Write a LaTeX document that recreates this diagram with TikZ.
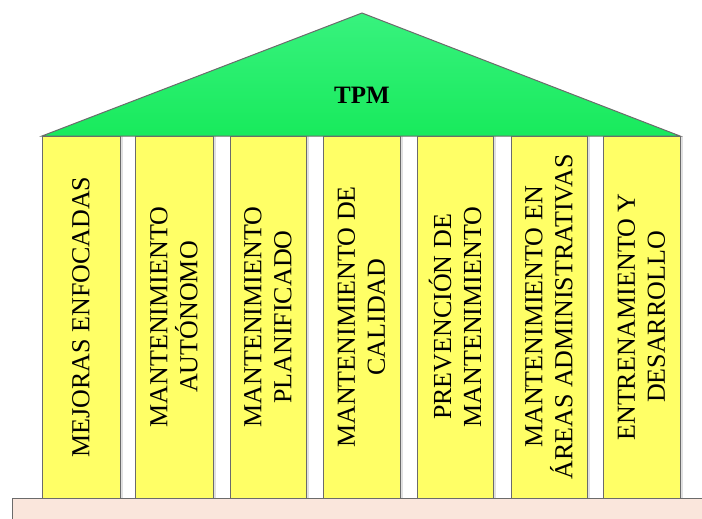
\documentclass[tikz,border=0pt]{standalone}
\usepackage{fontspec}
\setmainfont{Liberation Serif}
\begin{document}
\begin{tikzpicture}[x=1pt,y=-1pt,
  edge/.style={draw=black!58,line width=1pt},
  pillar/.style={edge,fill=pillarfill},
  label/.style={rotate=90,align=center,font=\fontsize{26}{30}\selectfont,inner sep=0pt}]
  \definecolor{pillarfill}{HTML}{FFFF66}
  \definecolor{rooftop}{HTML}{38F27E}
  \definecolor{roofbot}{HTML}{18EA5C}
  \definecolor{basefill}{HTML}{FAE6DC}
  \useasboundingbox (0,0) rectangle (702,519);
  % base slab, running past the right and bottom edges
  \draw[edge,fill=basefill] (12,498) rectangle (720,540);
  % pillars: left edge, right edge, text
  \foreach \l/\r/\t [count=\i] in {
      42/120/{MEJORAS ENFOCADAS},
      135/213/{MANTENIMIENTO\\AUTÓNOMO},
      230/306/{MANTENIMIENTO\\PLANIFICADO},
      323/400/{MANTENIMIENTO DE\\CALIDAD},
      417/493/{PREVENCIÓN DE\\MANTENIMIENTO},
      511/587/{MANTENIMIENTO EN\\ÁREAS ADMINISTRATIVAS},
      603/680/{ENTRENAMIENTO Y\\DESARROLLO}} {
    \fill[black!12] (\r,136) rectangle (\r+3,498);
    \draw[pillar] (\l,136) rectangle (\r,498);
    \node[label] (p\i) at ({(\l+\r)/2},317) {\t};
  }
  % roof
  \shade[top color=rooftop,bottom color=roofbot] (42,136) -- (362,13) -- (680,136) -- cycle;
  \draw[edge] (42,136) -- (362,13) -- (680,136) -- cycle;
  \node[font=\fontsize{25}{30}\selectfont\bfseries] (tpm) at (362,95) {TPM};
\end{tikzpicture}
\end{document}
